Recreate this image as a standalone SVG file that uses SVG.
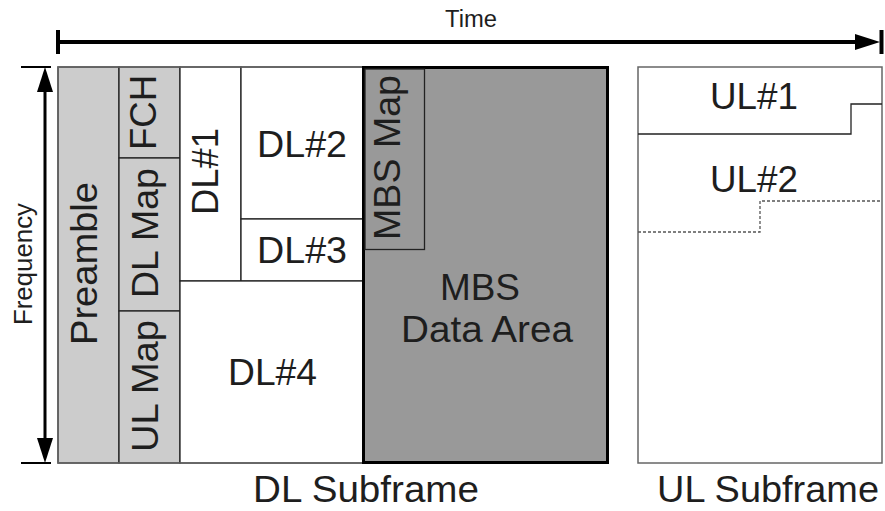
<svg xmlns="http://www.w3.org/2000/svg" width="885" height="511" viewBox="0 0 885 511">
<style>
text { font-family: "Liberation Sans", Arial, sans-serif; fill: #1e1e1e; }
.lbl { font-size: 37px; }
.light { fill: #cccccc; stroke: #222; stroke-width: 1.3; }
.white { fill: #ffffff; stroke: #222; stroke-width: 1.3; }
.dark { fill: #999999; stroke: #222; stroke-width: 1.3; }
.axis { stroke: #000; fill: none; }
</style>
<defs>
<marker id="ah" markerWidth="8" markerHeight="6" refX="8" refY="3" orient="auto" markerUnits="strokeWidth">
<path d="M0,0 L8,3 L0,6 z" fill="#000"/>
</marker>
</defs>
<rect x="0" y="0" width="885" height="511" fill="#ffffff"/>

<g id="preamble">
<rect class="light" x="58" y="67" width="61" height="396"/>
<text class="lbl" transform="translate(97,263.5) rotate(-90)" x="-81.5" y="0" textLength="163" lengthAdjust="spacingAndGlyphs">Preamble</text>
</g>
<g id="fch">
<rect class="light" x="119" y="67" width="61" height="91"/>
<text class="lbl" transform="translate(156,112.5) rotate(-90)" x="-37.5" y="0" textLength="75" lengthAdjust="spacingAndGlyphs">FCH</text>
</g>
<g id="dlmap">
<rect class="light" x="119" y="158" width="61" height="153"/>
<text class="lbl" transform="translate(158,233) rotate(-90)" x="-65" y="0" textLength="130" lengthAdjust="spacingAndGlyphs">DL Map</text>
</g>
<g id="ulmap">
<rect class="light" x="119" y="311" width="61" height="152"/>
<text class="lbl" transform="translate(158,386) rotate(-90)" x="-66" y="0" textLength="132" lengthAdjust="spacingAndGlyphs">UL Map</text>
</g>
<g id="dl1">
<rect class="white" x="180" y="67" width="61" height="214"/>
<text class="lbl" transform="translate(218,171.5) rotate(-90)" x="-43.5" y="0" textLength="87" lengthAdjust="spacingAndGlyphs">DL#1</text>
</g>
<g id="dl2">
<rect class="white" x="241" y="67" width="122" height="152"/>
<text class="lbl" x="257" y="157" textLength="90" lengthAdjust="spacingAndGlyphs">DL#2</text>
</g>
<g id="dl3">
<rect class="white" x="241" y="219" width="122" height="62"/>
<text class="lbl" x="257" y="263" textLength="90" lengthAdjust="spacingAndGlyphs">DL#3</text>
</g>
<g id="dl4">
<rect class="white" x="180" y="281" width="183" height="182"/>
<text class="lbl" x="228" y="385" textLength="89" lengthAdjust="spacingAndGlyphs">DL#4</text>
</g>
<g id="dlframe">
<rect x="58" y="67" width="305" height="396" fill="none" stroke="#666" stroke-width="1.5"/>
</g>
<g id="mbsdata">
<rect x="363.5" y="67.5" width="244" height="395" fill="#999999" stroke="#000" stroke-width="3"/>
<text class="lbl" x="440" y="300" textLength="80" lengthAdjust="spacingAndGlyphs">MBS</text>
<text class="lbl" x="401" y="342" textLength="172" lengthAdjust="spacingAndGlyphs">Data Area</text>
</g>
<g id="mbsmap">
<rect class="dark" x="365" y="69" width="59.5" height="180.5"/>
<text class="lbl" transform="translate(400,157.5) rotate(-90)" x="-82.5" y="0" textLength="165" lengthAdjust="spacingAndGlyphs">MBS Map</text>
</g>
<g id="ulframe">
<rect x="638" y="67" width="244" height="396" fill="#ffffff" stroke="#666" stroke-width="1.5"/>
</g>
<g id="ul1">
<polyline points="638,134 851,134 851,104 882,104" fill="none" stroke="#222" stroke-width="1.3"/>
<text class="lbl" x="710" y="109" textLength="88" lengthAdjust="spacingAndGlyphs">UL#1</text>
</g>
<g id="ul2">
<polyline points="638,232 760,232 760,201 882,201" fill="none" stroke="#555" stroke-width="1.3" stroke-dasharray="3,2"/>
<text class="lbl" x="710" y="192" textLength="88" lengthAdjust="spacingAndGlyphs">UL#2</text>
</g>

<g id="labels">
<text x="253" y="502" font-size="37" textLength="226" lengthAdjust="spacingAndGlyphs">DL Subframe</text>
<text x="657" y="502" font-size="37" textLength="222" lengthAdjust="spacingAndGlyphs">UL Subframe</text>
<text x="445" y="27" font-size="23" textLength="52" lengthAdjust="spacingAndGlyphs">Time</text>
<text transform="translate(32,264) rotate(-90)" x="-61" y="0" font-size="25" textLength="122" lengthAdjust="spacingAndGlyphs">Frequency</text>
</g>

<g id="connectors">
<line class="axis" x1="58" y1="42" x2="858" y2="42" stroke-width="4"/>
<polygon points="855,34 880,42 855,50" fill="#000"/>
<line class="axis" x1="58" y1="30" x2="58" y2="54" stroke-width="4"/>
<line class="axis" x1="881.5" y1="30" x2="881.5" y2="54" stroke-width="4"/>
<line class="axis" x1="45" y1="88" x2="45" y2="442" stroke-width="3"/>
<polygon points="45,67 37,92 53,92" fill="#000"/>
<polygon points="45,463 37,438 53,438" fill="#000"/>
<line class="axis" x1="21" y1="67" x2="51" y2="67" stroke-width="2"/>
<line class="axis" x1="21" y1="463" x2="51" y2="463" stroke-width="2"/>
</g>
</svg>
